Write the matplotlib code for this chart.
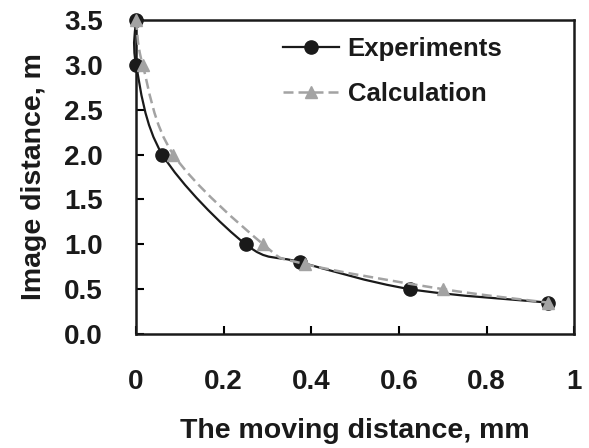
import numpy as np
import matplotlib
matplotlib.use("Agg")
import matplotlib.pyplot as plt
from matplotlib.path import Path
from matplotlib.patches import PathPatch
from matplotlib.lines import Line2D

plt.rcParams['font.family'] = ['Liberation Sans', 'DejaVu Sans']
plt.rcParams['font.weight'] = 'bold'

# data
exp_x = [0.0, 0.0, 0.06, 0.25, 0.375, 0.625, 0.94]
exp_y = [3.5, 3.0, 2.0, 1.0, 0.8, 0.5, 0.35]
calc_x = [0.0, 0.015, 0.085, 0.29, 0.385, 0.70, 0.94]
calc_y = [3.5, 3.0, 2.0, 1.0, 0.78, 0.5, 0.35]

xticks = [0, 0.2, 0.4, 0.6, 0.8, 1]
xticklabels = ['0', '0.2', '0.4', '0.6', '0.8', '1']
yticks = [0, 0.5, 1.0, 1.5, 2.0, 2.5, 3.0, 3.5]

fig = plt.figure(figsize=(5.89, 4.48), dpi=100)
ax = fig.add_axes([0.231, 0.2545, 0.744, 0.701])
ax.set_xlim(0, 1)
ax.set_ylim(0, 3.5)


def smooth_patch(xs, ys, **kw):
    # Excel-style smoothed line: Catmull-Rom -> cubic bezier, done in screen space
    pts = ax.transData.transform(np.column_stack([xs, ys]))
    n = len(pts)
    verts = [pts[0]]
    codes = [Path.MOVETO]
    for i in range(n - 1):
        p0 = pts[i - 1] if i > 0 else pts[i]
        p1 = pts[i]
        p2 = pts[i + 1]
        p3 = pts[i + 2] if i + 2 < n else pts[i + 1]
        c1 = p1 + (p2 - p0) / 6.0
        c2 = p2 - (p3 - p1) / 6.0
        verts += [c1, c2, p2]
        codes += [Path.CURVE4] * 3
    verts = ax.transData.inverted().transform(np.array(verts))
    patch = PathPatch(Path(verts, codes), fill=False, transform=ax.transData, **kw)
    ax.add_patch(patch)


smooth_patch(exp_x, exp_y, edgecolor='#1a1a1a', linewidth=1.6, zorder=2, clip_on=False)
ax.plot(exp_x, exp_y, linestyle='none', marker='o', markersize=9.5,
        color='#1a1a1a', zorder=3, clip_on=False)

smooth_patch(calc_x, calc_y, edgecolor='#a3a3a3', linewidth=1.8,
             linestyle=(0, (4, 2)), zorder=4, clip_on=False)
ax.plot(calc_x, calc_y, linestyle='none', marker='^', markersize=8.5,
        color='#a3a3a3', zorder=5, clip_on=False)

ax.set_xticks(xticks)
ax.set_xticklabels(xticklabels)
ax.set_yticks(yticks)
ax.set_yticklabels(['%.1f' % v for v in yticks])
ax.tick_params(axis='x', direction='in', length=6, width=1.5, pad=25, labelsize=20,
               labelcolor='#1a1a1a')
ax.tick_params(axis='y', direction='in', length=6, width=1.5, pad=24, labelsize=20,
               labelcolor='#1a1a1a')
for s in ax.spines.values():
    s.set_linewidth(1.8)
    s.set_color('#1a1a1a')

ax.set_xlabel('The moving distance, mm', fontsize=20.5, fontweight='bold',
              labelpad=17, color='#1a1a1a')
ax.set_ylabel('Image distance, m', fontsize=20.5, fontweight='bold',
              labelpad=12, color='#1a1a1a')

handles = [
    Line2D([], [], color='#1a1a1a', linewidth=1.6, marker='o', markersize=9.5),
    Line2D([], [], color='#a3a3a3', linewidth=1.8, linestyle=(0, (4, 2)),
           marker='^', markersize=8.5),
]
leg = ax.legend(handles, ['Experiments', 'Calculation'], loc='upper left',
                bbox_to_anchor=(0.336, 0.947), frameon=False,
                prop={'family': ['Liberation Sans', 'DejaVu Sans'],
                      'weight': 'bold', 'size': 18.5},
                handlelength=2.15, handletextpad=0.35, labelspacing=0.82,
                borderpad=0, borderaxespad=0)
for t in leg.get_texts():
    t.set_color('#1a1a1a')

fig.savefig('out.png', dpi=100)
